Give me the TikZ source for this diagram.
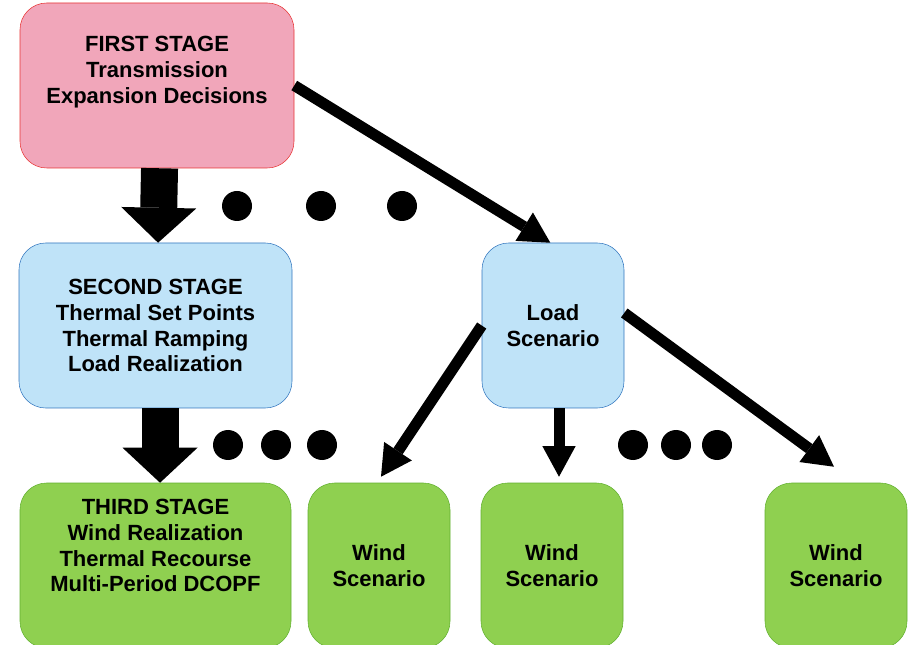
\documentclass[tikz,border=0pt]{standalone}
\usepackage{fontspec}
\setmainfont{Liberation Sans}
\usepackage{xcolor}
\usetikzlibrary{arrows.meta}
\definecolor{stagepink}{RGB}{241,166,186}
\definecolor{stagered}{RGB}{232,52,52}
\definecolor{loadblue}{RGB}{191,227,248}
\definecolor{loadedge}{RGB}{50,118,190}
\definecolor{windgreen}{RGB}{143,208,80}
\definecolor{windedge}{RGB}{98,176,48}
\tikzset{>=latex}

\begin{document}
\begin{tikzpicture}[x=0.75pt, y=-0.75pt]
                \tikzstyle{every node}=[font=\bfseries\fontsize{16.5}{19.4}\selectfont, align=center]
                \tikzstyle{stagebox}=[rectangle, draw, rounded corners=20pt, inner sep=0pt,
                        minimum height=123.75pt]
                \tikzstyle{dot}=[circle, fill=black, inner sep=0pt, minimum size=22.5pt]
                \tikzstyle{bigarrow}=[line width=27.75pt,
                        -{Triangle[length=26.25pt, width=56.25pt, line width=0pt]}]
                \tikzstyle{thinarrow}=[line width=8.25pt,
                        -{Triangle[length=23pt, width=25pt, line width=0pt]}]

                \useasboundingbox (0,0) rectangle (911,645);
                \clip (0,0) rectangle (911,645);

                % first stage
                \node[stagebox, fill=stagepink, draw=stagered, minimum width=205.5pt]
                        (first) at (157,85.5) {};
                \node (firsttext) at ([yshift=10pt]first.center)
                        {FIRST STAGE\\Transmission\\Expansion Decisions};

                % second stage
                \node[stagebox, fill=loadblue, draw=loadedge, minimum width=204.75pt]
                        (second) at (155.5,325.5)
                        {SECOND STAGE\\Thermal Set Points\\Thermal Ramping\\Load Realization};
                \node[stagebox, fill=loadblue, draw=loadedge, minimum width=106.5pt]
                        (load) at (553,325.5) {Load\\Scenario};

                % third stage
                \node[stagebox, fill=windgreen, draw=windedge, minimum width=203.25pt]
                        (third) at (155.5,565.5) {};
                \node (thirdtext) at ([yshift=15pt]third.center)
                        {THIRD STAGE\\Wind Realization\\Thermal Recourse\\Multi-Period DCOPF};
                \node[stagebox, fill=windgreen, draw=windedge, minimum width=106.5pt]
                        (wind1) at (379,565.5) {Wind\\Scenario};
                \node[stagebox, fill=windgreen, draw=windedge, minimum width=106.5pt]
                        (wind2) at (552,565.5) {Wind\\Scenario};
                \node[stagebox, fill=windgreen, draw=windedge, minimum width=106.5pt]
                        (wind3) at (836,565.5) {Wind\\Scenario};

                % stage arrows
                \draw[bigarrow] ([xshift=1.9pt]first.south) -- ([xshift=1.9pt]second.north);
                \draw[bigarrow] ([xshift=3.4pt]second.south) -- ([xshift=3.4pt]third.north);

                % scenario arrows
                \draw[thinarrow] (first.east) -- ([xshift=-2pt]load.north);
                \draw[thinarrow] (load.west) -- ([xshift=1.5pt, yshift=4.5pt]wind1.north);
                \draw[thinarrow] ([xshift=4.5pt]load.south) -- ([xshift=5.25pt, yshift=4.5pt]wind2.north);
                \draw[thinarrow] ([yshift=9.4pt]load.east) -- ([xshift=-1.5pt, yshift=12pt]wind3.north);

                % dots
                \node[dot] (d1) at (237,206) {};
                \node[dot] (d2) at (321,206) {};
                \node[dot] (d3) at (402,206) {};
                \node[dot] (d4) at (228,445) {};
                \node[dot] (d5) at (276,445) {};
                \node[dot] (d6) at (322,445) {};
                \node[dot] (d7) at (633,445) {};
                \node[dot] (d8) at (676,445) {};
                \node[dot] (d9) at (717,445) {};
\end{tikzpicture}
\end{document}
